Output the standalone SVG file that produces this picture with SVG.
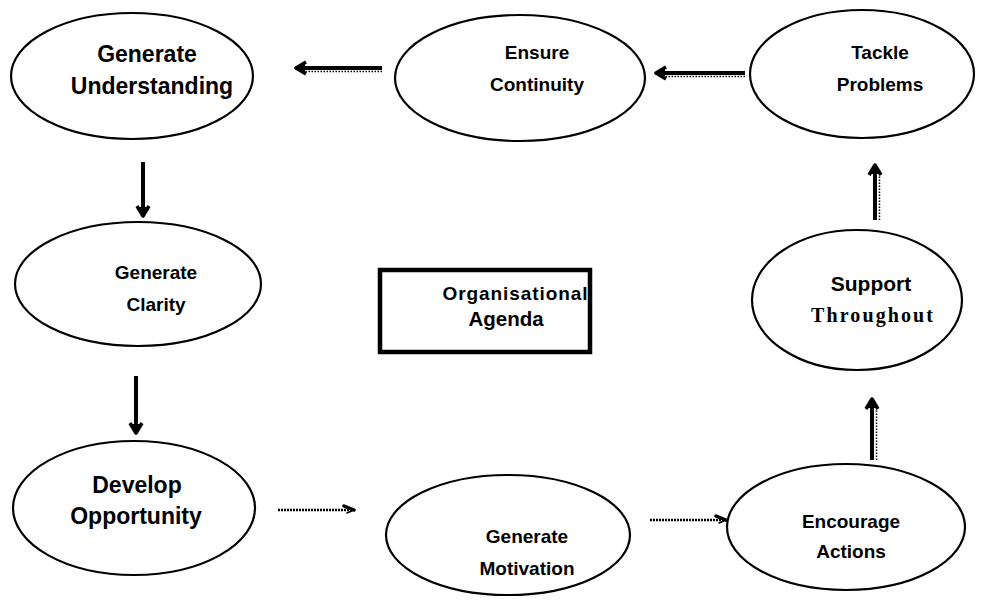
<svg xmlns="http://www.w3.org/2000/svg" width="990" height="608" viewBox="0 0 990 608">
  <style>
    .node ellipse { fill: #ffffff; stroke: #000000; stroke-width: 2.2; }
    .box { fill: #ffffff; stroke: #000000; stroke-width: 4.5; }
    .lbl { font-family: "Liberation Sans", Arial, sans-serif; font-weight: bold; font-size: 19px; fill: #000000; text-anchor: middle; }
    .lbl-lg { font-family: "Liberation Sans", Arial, sans-serif; font-weight: bold; font-size: 23px; fill: #000000; text-anchor: middle; }
    .lbl-s { font-family: "Liberation Serif", "Times New Roman", serif; font-weight: bold; font-size: 20px; fill: #000000; text-anchor: middle; }
    .shaft { stroke: #000000; stroke-width: 4; fill: none; }
    .dots { stroke: #000000; stroke-width: 1.5; stroke-dasharray: 1.5 1.5; fill: none; }
    .thin { stroke: #000000; stroke-width: 2.5; stroke-dasharray: 2 1; fill: none; }
  </style>
  <defs>
    <!-- heavy hand-drawn style head for the thick arrows -->
    <marker id="head" viewBox="-13 -8 15 16" markerWidth="15" markerHeight="16" refX="0" refY="0" orient="auto" markerUnits="userSpaceOnUse">
      <path d="M-10,-6 L0,0 L-10,6" fill="none" stroke="#000" stroke-width="3.5" stroke-linejoin="round"/>
      <path d="M0,0 L-9,-4 L-9,4 Z" fill="#000"/>
    </marker>
    <!-- small head for the light dashed arrows -->
    <marker id="tip" viewBox="-12 -6 14 12" markerWidth="14" markerHeight="12" refX="0" refY="0" orient="auto" markerUnits="userSpaceOnUse">
      <path d="M-10,-4 L0,0" fill="none" stroke="#000" stroke-width="3.5" stroke-linecap="round"/>
      <path d="M-7,3 L0,0" fill="none" stroke="#000" stroke-width="1.5" stroke-linecap="round"/>
    </marker>
  </defs>

  <rect width="990" height="608" fill="#ffffff"/>

  <!-- connectors -->
  <g id="connectors">
    <!-- Ensure Continuity -> Generate Understanding -->
    <line class="shaft" x1="382" y1="68" x2="296" y2="68" marker-end="url(#head)"/>
    <line class="dots" x1="382" y1="71.5" x2="303" y2="71.5"/>
    <!-- Tackle Problems -> Ensure Continuity -->
    <line class="shaft" x1="745" y1="73" x2="656" y2="73" marker-end="url(#head)"/>
    <line class="dots" x1="745" y1="76.5" x2="663" y2="76.5"/>
    <!-- Generate Understanding -> Generate Clarity -->
    <line class="shaft" x1="143" y1="162" x2="143" y2="216" marker-end="url(#head)"/>
    <!-- Generate Clarity -> Develop Opportunity -->
    <line class="shaft" x1="136" y1="376" x2="136" y2="433" marker-end="url(#head)"/>
    <!-- Develop Opportunity -> Generate Motivation -->
    <line class="thin" x1="278" y1="510" x2="354" y2="510" marker-end="url(#tip)"/>
    <!-- Generate Motivation -> Encourage Actions -->
    <line class="thin" x1="650" y1="520" x2="726" y2="520" marker-end="url(#tip)"/>
    <!-- Encourage Actions -> Support Throughout -->
    <line class="shaft" x1="872" y1="460" x2="872" y2="399" marker-end="url(#head)"/>
    <line class="dots" x1="876.5" y1="460" x2="876.5" y2="410"/>
    <!-- Support Throughout -> Tackle Problems -->
    <line class="shaft" x1="875" y1="220" x2="875" y2="165" marker-end="url(#head)"/>
    <line class="dots" x1="879.5" y1="220" x2="879.5" y2="176"/>
  </g>

  <g id="generate-understanding" class="node">
    <ellipse cx="132" cy="76" rx="121" ry="63"/>
    <text class="lbl-lg" x="147" y="62">Generate</text>
    <text class="lbl-lg" x="152" y="94">Understanding</text>
  </g>

  <g id="ensure-continuity" class="node">
    <ellipse cx="520" cy="78" rx="125" ry="63"/>
    <text class="lbl" x="537" y="59">Ensure</text>
    <text class="lbl" x="537" y="91">Continuity</text>
  </g>

  <g id="tackle-problems" class="node">
    <ellipse cx="862" cy="74" rx="112" ry="64"/>
    <text class="lbl" x="880" y="59">Tackle</text>
    <text class="lbl" x="880" y="91">Problems</text>
  </g>

  <g id="generate-clarity" class="node">
    <ellipse cx="138" cy="284" rx="123" ry="62"/>
    <text class="lbl" x="156" y="279">Generate</text>
    <text class="lbl" x="156" y="311">Clarity</text>
  </g>

  <g id="organisational-agenda">
    <rect class="box" x="380" y="270" width="210" height="82"/>
    <text class="lbl" x="515" y="300" textLength="145" lengthAdjust="spacing">Organisational</text>
    <text class="lbl" x="506" y="326" style="font-size:20.5px">Agenda</text>
  </g>

  <g id="support-throughout" class="node">
    <ellipse cx="857" cy="300" rx="105" ry="70"/>
    <text class="lbl" x="871" y="291" style="font-size:21px">Support</text>
    <text class="lbl-s" x="872" y="322" textLength="122" lengthAdjust="spacing">Throughout</text>
  </g>

  <g id="develop-opportunity" class="node">
    <ellipse cx="134" cy="508" rx="121" ry="67"/>
    <text class="lbl-lg" x="137" y="493">Develop</text>
    <text class="lbl-lg" x="136" y="524">Opportunity</text>
  </g>

  <g id="generate-motivation" class="node">
    <ellipse cx="508" cy="535" rx="122" ry="60"/>
    <text class="lbl" x="527" y="543">Generate</text>
    <text class="lbl" x="527" y="575">Motivation</text>
  </g>

  <g id="encourage-actions" class="node">
    <ellipse cx="846" cy="527" rx="119" ry="63"/>
    <text class="lbl" x="851" y="528">Encourage</text>
    <text class="lbl" x="851" y="558">Actions</text>
  </g>
</svg>
